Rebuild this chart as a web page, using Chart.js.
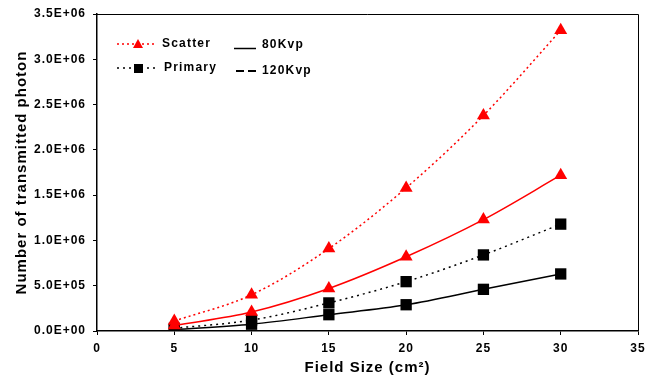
<!DOCTYPE html>
<html>
<head>
<meta charset="utf-8">
<script src="https://cdn.jsdelivr.net/npm/chart.js@4/dist/chart.umd.min.js"></script>
<style>
  html, body { margin: 0; padding: 0; background: #fff; }
  #wrap { width: 646px; height: 377px; }
</style>
</head>
<body>
<div id="wrap"><canvas id="c" width="646" height="377"></canvas></div>
<script>
// ---- data ----
const fieldSize = [5, 10, 15, 20, 25, 30];
const scatter120 = [110000, 400000, 910000, 1580000, 2380000, 3320000];
const scatter80  = [60000, 210000, 470000, 820000, 1230000, 1720000];
const primary120 = [30000, 120000, 310000, 545000, 840000, 1180000];
const primary80  = [15000, 75000, 180000, 290000, 460000, 630000];
const yTickLabels = ['0.0E+00', '5.0E+05', '1.0E+06', '1.5E+06', '2.0E+06', '2.5E+06', '3.0E+06', '3.5E+06'];
const xTickLabels = ['0', '5', '10', '15', '20', '25', '30', '35'];
const legendItems = ['Scatter', 'Primary', '80Kvp', '120Kvp'];

const FONT = "'Liberation Sans', Arial, sans-serif";
const pts = (vals) => fieldSize.map((x, i) => ({ x: x, y: vals[i] }));

const spacingPlugin = {
  id: 'spacing',
  beforeUpdate(chart) { chart.ctx.letterSpacing = '1px'; },
  beforeLayout(chart) { chart.ctx.letterSpacing = '1px'; },
  beforeDraw(chart) { chart.ctx.letterSpacing = '1px'; }
};

const framePlugin = {
  id: 'frame',
  afterDraw(chart) {
    const { ctx, chartArea: a } = chart;
    ctx.save();
    ctx.strokeStyle = '#000';
    ctx.lineWidth = 1;
    ctx.beginPath();
    ctx.moveTo(a.left, Math.round(a.top) + 0.5);
    ctx.lineTo(Math.round(a.right) + 0.5, Math.round(a.top) + 0.5);
    ctx.lineTo(Math.round(a.right) + 0.5, a.bottom);
    ctx.stroke();
    ctx.restore();
  }
};

const legendPlugin = {
  id: 'customLegend',
  afterDraw(chart) {
    const ctx = chart.ctx;
    ctx.save();
    ctx.letterSpacing = '1.2px';
    ctx.font = 'bold 12px ' + FONT;
    ctx.fillStyle = '#000';
    ctx.textBaseline = 'middle';
    ctx.textAlign = 'left';
    // row 1: Scatter
    ctx.lineWidth = 1.5;
    ctx.strokeStyle = '#ff0000';
    ctx.setLineDash([2, 3]);
    ctx.beginPath(); ctx.moveTo(117, 44); ctx.lineTo(157, 44); ctx.stroke();
    ctx.setLineDash([]);
    ctx.fillStyle = '#ff0000';
    ctx.beginPath(); ctx.moveTo(138, 39); ctx.lineTo(143, 48); ctx.lineTo(133, 48); ctx.closePath(); ctx.fill();
    ctx.fillStyle = '#000';
    ctx.fillText(legendItems[0], 162, 44);
    // row 2: Primary
    ctx.strokeStyle = '#000';
    ctx.setLineDash([2, 4]);
    ctx.beginPath(); ctx.moveTo(117, 68); ctx.lineTo(157, 68); ctx.stroke();
    ctx.setLineDash([]);
    ctx.fillRect(134, 64, 9, 9);
    ctx.fillText(legendItems[1], 164, 68);
    // 80Kvp solid
    ctx.beginPath(); ctx.moveTo(234, 48.5); ctx.lineTo(256, 48.5); ctx.stroke();
    ctx.fillText(legendItems[2], 262, 45);
    // 120Kvp dashed
    ctx.lineWidth = 2;
    ctx.setLineDash([8, 4]);
    ctx.beginPath(); ctx.moveTo(236, 71); ctx.lineTo(256, 71); ctx.stroke();
    ctx.setLineDash([]);
    ctx.fillText(legendItems[3], 262, 71);
    ctx.restore();
  }
};

const common = {
  showLine: true,
  cubicInterpolationMode: 'monotone',
  borderWidth: 1.5,
  pointBorderWidth: 0
};

new Chart(document.getElementById('c'), {
  type: 'line',
  data: {
    datasets: [
      Object.assign({}, common, { label: 'Scatter 120Kvp', data: pts(scatter120), borderColor: '#ff0000', backgroundColor: '#ff0000', borderDash: [2, 3], pointStyle: 'triangle', pointRadius: 7.5 }),
      Object.assign({}, common, { label: 'Scatter 80Kvp', data: pts(scatter80), borderColor: '#ff0000', backgroundColor: '#ff0000', pointStyle: 'triangle', pointRadius: 7.5 }),
      Object.assign({}, common, { label: 'Primary 120Kvp', data: pts(primary120), borderColor: '#000', backgroundColor: '#000', borderDash: [2, 4], pointStyle: 'rect', pointRadius: 8 }),
      Object.assign({}, common, { label: 'Primary 80Kvp', data: pts(primary80), borderColor: '#000', backgroundColor: '#000', pointStyle: 'rect', pointRadius: 8 })
    ]
  },
  options: {
    responsive: false,
    animation: false,
    devicePixelRatio: 1,
    layout: { padding: { left: 0, top: 14, right: 7, bottom: 0 } },
    plugins: { legend: { display: false }, tooltip: { enabled: false } },
    scales: {
      x: {
        type: 'linear', min: 0, max: 35,
        ticks: { stepSize: 5, color: '#000', maxRotation: 0, padding: 6,
                 font: { family: FONT, weight: 'bold', size: 12 },
                 callback: (v, i) => xTickLabels[i] },
        grid: { drawOnChartArea: false, drawTicks: true, tickLength: 4, color: '#000' },
        border: { color: '#000', width: 1.5 },
        title: { display: true, text: 'Field Size (cm²)', color: '#000',
                 font: { family: FONT, weight: 'bold', size: 15 }, padding: { top: 0, bottom: 0 } },
        afterFit(s) { s.height = 46; s.paddingLeft = 0; s.paddingRight = 0; }
      },
      y: {
        min: 0, max: 3500000,
        ticks: { stepSize: 500000, color: '#000', padding: 7,
                 font: { family: FONT, weight: 'bold', size: 12 },
                 callback: (v, i) => yTickLabels[i] },
        grid: { drawOnChartArea: false, drawTicks: true, tickLength: 4, color: '#000' },
        border: { color: '#000', width: 1.5 },
        title: { display: true, text: 'Number of transmitted photon', color: '#000',
                 font: { family: FONT, weight: 'bold', size: 15 }, padding: { top: 13, bottom: 0 } },
        afterFit(s) { s.width = 97; s.paddingTop = 0; s.paddingBottom = 0; }
      }
    }
  },
  plugins: [spacingPlugin, framePlugin, legendPlugin]
});
</script>
</body>
</html>
